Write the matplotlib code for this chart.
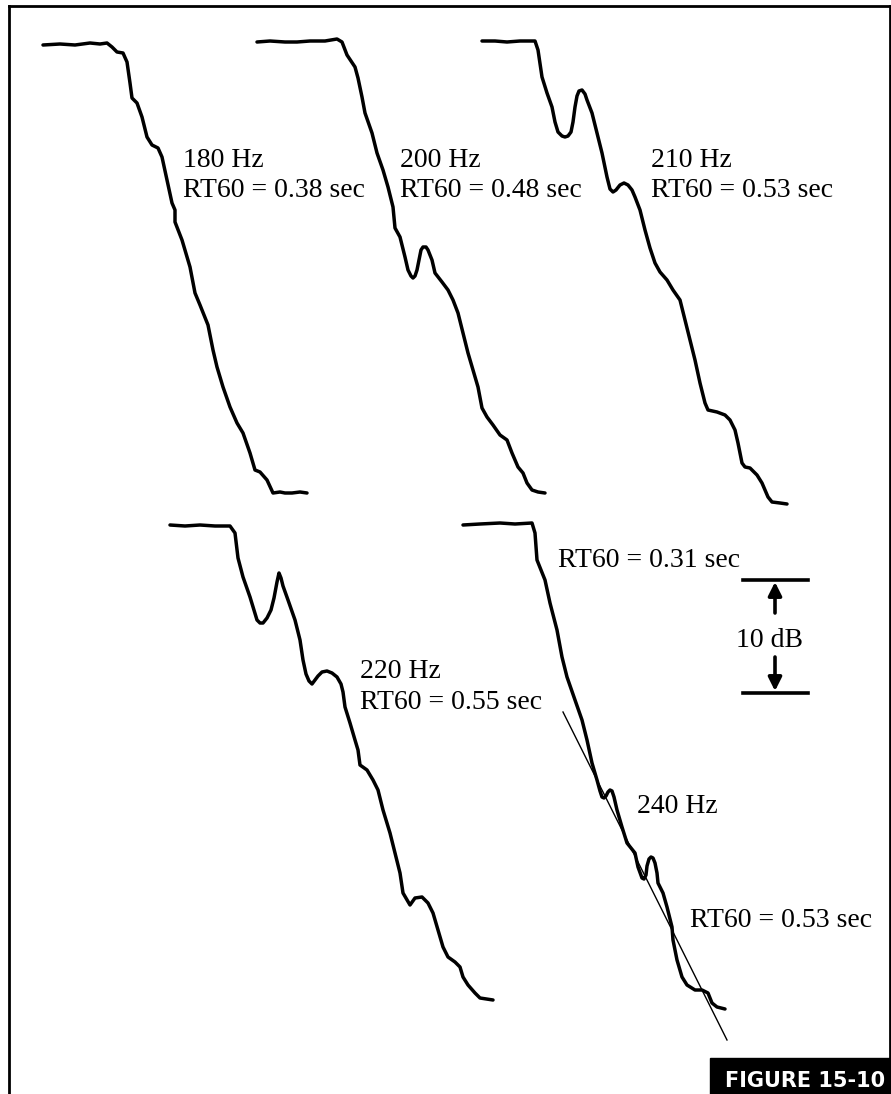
import matplotlib
matplotlib.use('Agg')
from matplotlib import pyplot as plt
from matplotlib.patches import Rectangle

# traces (drawing units = pixels of the 891x1094 page)
hz180_x = [43, 60, 75, 90, 100, 107, 112, 117, 123, 127, 130, 132, 137, 142, 147, 152, 158, 162,
           167, 172, 175, 175, 182, 190, 195, 200, 208, 213, 217, 223, 230, 237, 243, 250, 255,
           260, 267, 273, 280, 285, 292, 300, 307]
hz180_y = [45, 44, 45, 43, 44, 43, 47, 52, 53, 62, 83, 98, 103, 117, 137, 145, 148, 157,
           180, 203, 210, 222, 240, 267, 293, 305, 325, 350, 367, 387, 407, 423, 433, 453, 470,
           472, 480, 493, 492, 493, 493, 492, 493]

hz200_x = [257, 270, 285, 297, 310, 325, 337, 342, 347, 355, 358, 362, 365, 372, 377, 383, 388,
           393, 395, 400, 405, 408, 411, 413, 415, 417, 419, 421, 423, 426, 428, 432, 435, 442,
           448, 453, 458, 463, 468, 473, 478, 482, 487, 493, 500, 507, 512, 518, 523, 527, 532,
           538, 545]
hz200_y = [42, 41, 42, 42, 41, 41, 39, 42, 55, 67, 78, 97, 113, 133, 153, 170, 187,
           207, 228, 237, 257, 270, 276, 278, 276, 270, 260, 250, 247, 247, 250, 260, 273, 282,
           290, 300, 313, 333, 353, 370, 387, 408, 417, 425, 435, 440, 453, 467, 473, 483, 490,
           492, 493]

hz210_x = [482, 495, 507, 520, 535, 538, 542, 547, 552, 555, 558, 562, 565, 568, 571, 573, 575,
           577, 579, 582, 585, 587, 592, 597, 602, 607, 610, 613, 616, 620, 624, 628, 632, 635,
           640, 645, 650, 655, 660, 667, 673, 680, 685, 690, 695, 700, 705, 708, 717, 725, 730,
           735, 738, 742, 745, 750, 757, 762, 768, 772, 780, 787]
hz210_y = [41, 41, 42, 41, 41, 50, 77, 93, 107, 122, 132, 136, 137, 136, 132, 122, 107,
           96, 91, 90, 94, 100, 113, 133, 153, 177, 189, 192, 190, 185, 183, 185, 190, 197,
           210, 230, 248, 263, 272, 280, 290, 300, 320, 340, 360, 383, 403, 410, 412, 415, 420,
           430, 443, 463, 467, 468, 475, 483, 497, 502, 503, 504]

hz220_x = [170, 185, 200, 215, 230, 235, 238, 243, 250, 257, 260, 263, 267, 271, 274, 277, 279,
           281, 283, 288, 295, 300, 303, 306, 309, 312, 315, 318, 322, 327, 332, 337, 341, 343,
           345, 350, 355, 358, 360, 367, 373, 378, 383, 390, 395, 400, 403, 410, 415, 422, 428,
           433, 438, 443, 448, 455, 460, 463, 468, 475, 480, 493]
hz220_y = [525, 526, 525, 526, 526, 533, 558, 577, 597, 620, 623, 623, 618, 610, 598, 582, 573,
           578, 586, 600, 620, 640, 660, 674, 681, 684, 680, 676, 672, 671, 673, 677, 684, 692,
           707, 723, 740, 750, 765, 770, 780, 790, 810, 833, 853, 873, 893, 905, 898, 897, 903,
           913, 930, 947, 957, 962, 967, 977, 985, 993, 998, 1000]

hz240_x = [463, 480, 500, 515, 532, 535, 537, 545, 550, 557, 562, 567, 575, 582, 587, 592, 597,
           600, 602, 604, 606, 608, 610, 612, 614, 617, 622, 627, 635, 638, 642, 644, 646, 647,
           649, 651, 653, 655, 657, 658, 663, 667, 672, 673, 677, 682, 687, 695, 702, 708, 712,
           717, 725]
hz240_y = [525, 524, 523, 524, 523, 533, 560, 580, 603, 630, 657, 677, 700, 720, 740, 763, 780,
           791, 797, 798, 796, 792, 790, 791, 797, 810, 827, 843, 853, 867, 878, 879, 875, 866,
           859, 857, 858, 863, 873, 883, 893, 907, 927, 940, 960, 977, 985, 990, 990, 993, 1003,
           1007, 1009]

# fitted decay slope drawn over the 240 Hz trace
fit240_x = [563, 727]
fit240_y = [712, 1040]

# 10 dB scale bar levels
scale_x = [743, 808]
scale_top = 580
scale_bottom = 693

fig = plt.figure(figsize=(8.91, 10.94), dpi=100)
ax = fig.add_axes([0, 0, 1, 1])
ax.set_xlim(0, 891)
ax.set_ylim(1094, 0)
ax.axis('off')

# page frame
ax.plot([8.5, 8.5], [6, 1094], color='black', lw=2)
ax.plot([8.5, 889.5], [6, 6], color='black', lw=2)
ax.plot([889.5, 889.5], [6, 1058], color='black', lw=2)

for xs, ys in [(hz180_x, hz180_y), (hz200_x, hz200_y), (hz210_x, hz210_y),
               (hz220_x, hz220_y), (hz240_x, hz240_y)]:
    ax.plot(xs, ys, color='black', lw=2.5, solid_joinstyle='round', solid_capstyle='round')

ax.plot(fit240_x, fit240_y, color='black', lw=1.0)

# 10 dB marker
ax.plot(scale_x, [scale_top, scale_top], color='black', lw=2.6)
ax.plot(scale_x, [scale_bottom, scale_bottom], color='black', lw=2.6)
arrow = dict(arrowstyle='-|>', lw=2.6, color='black', mutation_scale=20, shrinkA=0, shrinkB=0)
ax.annotate('', xy=(775, scale_top + 2), xytext=(775, 613), arrowprops=arrow)
ax.annotate('', xy=(775, scale_bottom - 2), xytext=(775, 657), arrowprops=arrow)

txt = dict(fontsize=20, family='Liberation Serif', va='baseline', ha='left')
ax.text(183, 167, '180 Hz', **txt)
ax.text(183, 197, 'RT60 = 0.38 sec', **txt)
ax.text(400, 167, '200 Hz', **txt)
ax.text(400, 197, 'RT60 = 0.48 sec', **txt)
ax.text(651, 167, '210 Hz', **txt)
ax.text(651, 197, 'RT60 = 0.53 sec', **txt)
ax.text(360, 678, '220 Hz', **txt)
ax.text(360, 709, 'RT60 = 0.55 sec', **txt)
ax.text(558, 567, 'RT60 = 0.31 sec', **txt)
ax.text(637, 813, '240 Hz', **txt)
ax.text(690, 927, 'RT60 = 0.53 sec', **txt)
ax.text(770, 647, '10 dB', **dict(txt, ha='center'))

# figure tag
ax.add_patch(Rectangle((710, 1058), 181, 36, color='black'))
ax.text(805, 1087, 'FIGURE 15-10', color='white', fontsize=15, fontweight='bold',
        family='DejaVu Sans', ha='center', va='baseline')

fig.savefig('out.png', dpi=100)
